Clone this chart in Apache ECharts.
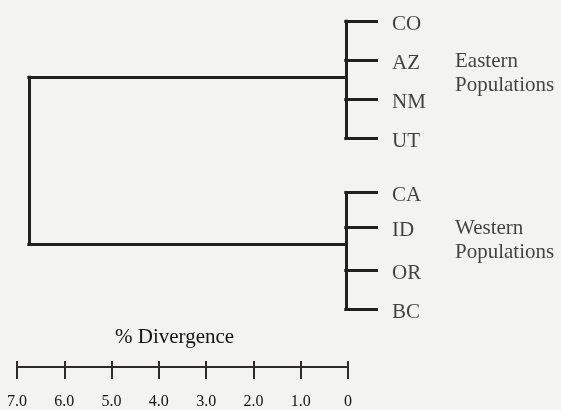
<!DOCTYPE html>
<html>
<head>
<meta charset="utf-8">
<script src="https://cdn.jsdelivr.net/npm/echarts@6/dist/echarts.min.js"></script>
<style>
  html, body { margin: 0; padding: 0; background: #f3f3f2; }
  #main { width: 561px; height: 410px; }
</style>
</head>
<body>
<div id="main"></div>
<script>
// leaves, top to bottom, and their row position
var leafNames = ['CO', 'AZ', 'NM', 'UT', 'CA', 'ID', 'OR', 'BC'];
var leafRows = [0, 1, 2, 3, 4.4, 5.3, 6.4, 7.4];
// two population clusters (index ranges into the leaves)
var clusterNames = ['Eastern\nPopulations', 'Western\nPopulations'];
var clusterMembers = [[0, 1, 2, 3], [4, 5, 6, 7]];
var clusterHeights = [0.05, 0.05];   // % divergence at the cluster node
var clusterJoinRows = [1.44, 5.72];
var rootHeight = 6.75;
var leafEnd = -0.6;                  // leaf branches run past 0
// scale bar
var scaleMin = 0, scaleMax = 7, scaleStep = 1;

var ink = '#221f1f';
var textInk = '#141414';
var serif = 'Liberation Serif, Times New Roman, serif';

// build branch segments
var segs = [];
clusterMembers.forEach(function (m, c) {
    var h = clusterHeights[c];
    segs.push({ coords: [[h, leafRows[m[0]]], [h, leafRows[m[m.length - 1]]]] });
    m.forEach(function (i) {
        segs.push({ coords: [[h, leafRows[i]], [leafEnd, leafRows[i]]] });
    });
    segs.push({ coords: [[rootHeight, clusterJoinRows[c]], [h, clusterJoinRows[c]]] });
});
segs.push({ coords: [[rootHeight, clusterJoinRows[0]], [rootHeight, clusterJoinRows[clusterJoinRows.length - 1]]] });

var leafPts = leafNames.map(function (n, i) { return [leafEnd, leafRows[i], n]; });
var groupPts = clusterNames.map(function (n, c) { return [leafEnd, clusterJoinRows[c], n]; });

var myChart = echarts.init(document.getElementById('main'));
myChart.setOption({
    backgroundColor: '#f3f3f2',
    animation: false,
    title: {
        text: '% Divergence',
        left: 115,
        top: 327,
        padding: 0,
        textStyle: { fontFamily: serif, fontSize: 21, fontWeight: 'normal', color: textInk }
    },
    grid: [
        { left: 17, top: 21, width: 359.5, height: 288.6 },
        { left: 17, top: 360, width: 331, height: 8 }
    ],
    xAxis: [
        { gridIndex: 0, type: 'value', min: leafEnd, max: scaleMax, inverse: true, show: false },
        {
            gridIndex: 1, type: 'value', min: scaleMin, max: scaleMax, interval: scaleStep,
            inverse: true, position: 'bottom',
            axisLine: { lineStyle: { color: '#2e2a2a', width: 2 } },
            axisTick: { length: 12, lineStyle: { color: '#2e2a2a', width: 2 } },
            splitLine: { show: false },
            axisLabel: {
                margin: 27, fontFamily: serif, fontSize: 16, color: textInk,
                formatter: function (v) { return v === 0 ? '0' : v.toFixed(1); }
            }
        },
        {
            gridIndex: 1, type: 'value', min: scaleMin, max: scaleMax, interval: scaleStep,
            inverse: true, position: 'bottom',
            axisLine: { lineStyle: { color: '#2e2a2a', width: 2 } },
            axisTick: { inside: true, length: 6, lineStyle: { color: '#2e2a2a', width: 2 } },
            splitLine: { show: false },
            axisLabel: { show: false }
        }
    ],
    yAxis: [
        { gridIndex: 0, type: 'value', min: 0, max: 7.4, inverse: true, show: false },
        { gridIndex: 1, type: 'value', show: false }
    ],
    series: [
        {
            type: 'lines',
            coordinateSystem: 'cartesian2d',
            xAxisIndex: 0, yAxisIndex: 0,
            lineStyle: { color: ink, width: 3, opacity: 1, cap: 'square' },
            data: segs
        },
        {
            type: 'scatter',
            xAxisIndex: 0, yAxisIndex: 0,
            symbolSize: 1,
            itemStyle: { color: 'transparent' },
            label: {
                show: true, position: 'right', distance: 15, offset: [0, 3],
                fontFamily: serif, fontSize: 21, color: textInk,
                formatter: function (p) { return p.data[2]; }
            },
            data: leafPts
        },
        {
            type: 'scatter',
            xAxisIndex: 0, yAxisIndex: 0,
            symbolSize: 1,
            itemStyle: { color: 'transparent' },
            label: {
                show: true, position: 'right', distance: 78, offset: [0, -4],
                fontFamily: serif, fontSize: 21, lineHeight: 24, color: textInk, align: 'left',
                formatter: function (p) { return p.data[2]; }
            },
            data: groupPts
        }
    ]
});
</script>
</body>
</html>
